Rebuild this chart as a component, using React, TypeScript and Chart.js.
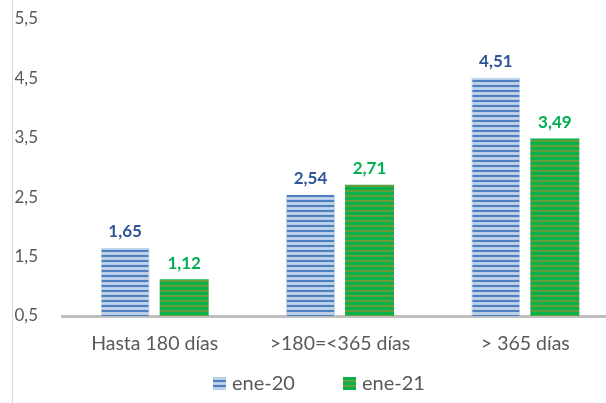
import { useEffect, useRef } from "react";
import { Chart, registerables } from "chart.js";

Chart.register(...registerables);

const categories = ["Hasta 180 días", ">180=<365 días", "> 365 días"];
const seriesNames = ["ene-20", "ene-21"];
const ene20 = [1.65, 2.54, 4.51];
const ene21 = [1.12, 2.71, 3.49];
const yMin = 0.5;
const yMax = 5.5;
const yStep = 1;

const FONT = "Lato, 'Open Sans', sans-serif";
const TEXT = "#595959";
const BLUE_LABEL = "#2f5597";
const GREEN_LABEL = "#00b050";

function makePattern(rows: string[]): CanvasPattern | string {
  const c = document.createElement("canvas");
  c.width = 4;
  c.height = rows.length;
  const ctx = c.getContext("2d");
  if (!ctx) return rows[0];
  rows.forEach((col, i) => {
    ctx.fillStyle = col;
    ctx.fillRect(0, i, 4, 1);
  });
  const p = ctx.createPattern(c, "repeat");
  return p || rows[0];
}

const fmt = (v: number) => v.toFixed(2).replace(".", ",");

export default function App() {
  const ref = useRef<HTMLCanvasElement | null>(null);

  useEffect(() => {
    if (!ref.current) return;
    const bluePat = makePattern(["#4a7ebd", "#4f82c0", "#b7cbe6", "#c2d3ea", "#b7cbe6"]);
    const greenPat = makePattern(["#6a9e38", "#5f9c3a", "#0db14b", "#03b04e", "#0db14b"]);
    const pats = [bluePat, greenPat];

    const dataLabels = {
      id: "dataLabels",
      afterDatasetsDraw(chart: any) {
        const ctx = chart.ctx;
        ctx.save();
        ctx.font = `bold 17px ${FONT}`;
        ctx.textAlign = "center";
        ctx.textBaseline = "middle";
        chart.data.datasets.forEach((ds: any, di: number) => {
          const meta = chart.getDatasetMeta(di);
          ctx.fillStyle = di === 0 ? BLUE_LABEL : GREEN_LABEL;
          meta.data.forEach((el: any, i: number) => {
            ctx.fillText(fmt(ds.data[i]), el.x, el.y - 16);
          });
        });
        ctx.restore();
      },
    };

    const frameLegend = {
      id: "frameLegend",
      afterDraw(chart: any) {
        const ctx = chart.ctx;
        ctx.save();
        ctx.strokeStyle = "#d9d9d9";
        ctx.lineWidth = 1;
        ctx.beginPath();
        ctx.moveTo(12.5, 0);
        ctx.lineTo(12.5, chart.height);
        ctx.stroke();

        const items = [
          { x: 213, tx: 232 },
          { x: 343, tx: 362 },
        ];
        ctx.font = `20px ${FONT}`;
        ctx.textAlign = "left";
        ctx.textBaseline = "middle";
        items.forEach((it, i) => {
          ctx.fillStyle = pats[i] as any;
          ctx.fillRect(it.x, 377, 13, 13);
          ctx.fillStyle = TEXT;
          ctx.fillText(seriesNames[i], it.tx, 384);
        });
        ctx.restore();
      },
    };

    const chart = new Chart(ref.current, {
      type: "bar",
      data: {
        labels: categories,
        datasets: [
          {
            label: seriesNames[0],
            data: ene20,
            backgroundColor: bluePat as any,
            borderColor: "#c3d4ea",
            borderWidth: { left: 1, right: 1, top: 0, bottom: 0 } as any,
            borderSkipped: "bottom",
            barPercentage: 0.83,
            categoryPercentage: 0.637,
          },
          {
            label: seriesNames[1],
            data: ene21,
            backgroundColor: greenPat as any,
            borderWidth: 0,
            barPercentage: 0.83,
            categoryPercentage: 0.637,
          },
        ],
      },
      options: {
        responsive: false,
        animation: false,
        layout: { padding: { left: 0, top: 19, right: 2, bottom: 0 } },
        plugins: {
          legend: { display: false },
          tooltip: { enabled: false },
          title: { display: false },
        },
        scales: {
          x: {
            grid: { display: false, drawTicks: false },
            border: { display: true, color: "#bfbfbf", width: 3 },
            ticks: {
              color: TEXT,
              font: { family: FONT, size: 19.5 },
              padding: 16,
              maxRotation: 0,
              autoSkip: false,
            },
            afterFit: (s: any) => {
              s.height = 87;
            },
          },
          y: {
            min: yMin,
            max: yMax,
            grid: { display: false, drawTicks: false },
            border: { display: false },
            ticks: {
              stepSize: yStep,
              color: TEXT,
              font: { family: FONT, size: 17 },
              padding: 24,
              callback: (v: any) => Number(v).toFixed(1).replace(".", ","),
            },
            afterFit: (s: any) => {
              s.width = 62;
              s.paddingTop = 0;
              s.paddingBottom = 0;
            },
          },
        },
      },
      plugins: [dataLabels, frameLegend],
    });
    return () => chart.destroy();
  }, []);

  return (
    <div
      style={{
        position: "fixed",
        left: 0,
        top: 0,
        width: 606,
        height: 403,
        overflow: "hidden",
        background: "#ffffff",
      }}
    >
      <canvas ref={ref} width={620} height={403} style={{ display: "block", width: 620, height: 403 }} />
    </div>
  );
}
